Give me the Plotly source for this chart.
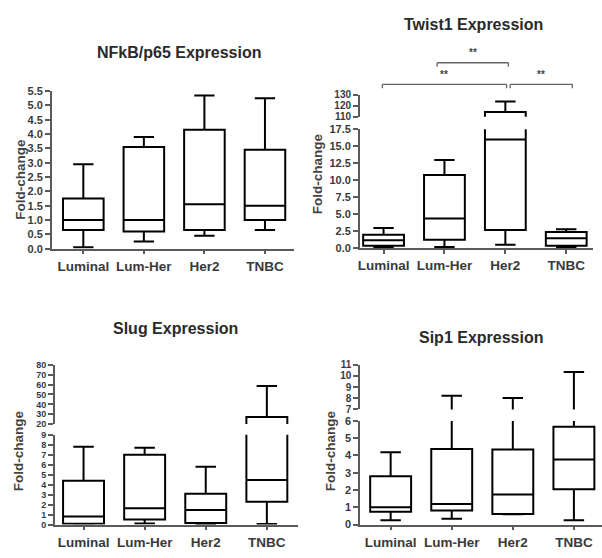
import plotly.graph_objects as go

W, H = 602, 558
categories = ["Luminal", "Lum-Her", "Her2", "TNBC"]

# NFkB/p65
nfkb_low = [0.05, 0.25, 0.45, 0.65]
nfkb_q1 = [0.65, 0.60, 0.65, 1.00]
nfkb_med = [1.00, 1.00, 1.55, 1.50]
nfkb_q3 = [1.75, 3.55, 4.15, 3.45]
nfkb_high = [2.95, 3.90, 5.35, 5.25]

# Twist1
tw_low = [0.2, 0.2, 0.55, 0.2]
tw_q1 = [0.4, 1.25, 2.7, 0.4]
tw_med = [1.2, 4.4, 16.0, 1.5]
tw_q3 = [2.0, 10.8, 114.4, 2.4]
tw_high = [3.0, 13.0, 123.8, 2.8]

# Slug
sl_low = [0.02, 0.1, 0.05, 0.07]
sl_q1 = [0.08, 0.5, 0.15, 2.28]
sl_med = [0.8, 1.65, 1.47, 4.48]
sl_q3 = [4.4, 7.0, 3.1, 27.2]
sl_high = [7.8, 7.7, 5.8, 58.6]

# Sip1
sp_low = [0.25, 0.34, 0.6, 0.25]
sp_q1 = [0.75, 0.81, 0.62, 2.04]
sp_med = [1.0, 1.19, 1.74, 3.77]
sp_q3 = [2.79, 4.38, 4.34, 5.66]
sp_high = [4.19, 8.23, 8.02, 10.36]

# significance brackets on Twist1: (left, right, label, row)
brackets = [(0.88, 2.05, "**", 0), (-0.02, 2.02, "**", 1), (2.08, 3.10, "**", 1)]

FONT = "Arial, Liberation Sans, sans-serif"
AX = "#5a5a5a"
TXT = "#3a3a3a"


def px_x(p):
    return p / W


def px_y(p):
    return 1 - p / H


fig = go.Figure()


def add_box(xa, ya, low, q1, med, q3, high):
    fig.add_trace(go.Box(
        x=categories, lowerfence=low, q1=q1, median=med, q3=q3, upperfence=high,
        xaxis=xa, yaxis=ya, boxpoints=False, width=0.67, whiskerwidth=0.5,
        line=dict(color="black", width=2), fillcolor="rgba(255,255,255,0)",
        showlegend=False, hoverinfo="skip"))


add_box("x", "y", nfkb_low, nfkb_q1, nfkb_med, nfkb_q3, nfkb_high)
add_box("x2", "y2", tw_low, tw_q1, tw_med, tw_q3, tw_high)
add_box("x3", "y3", tw_low, tw_q1, tw_med, tw_q3, tw_high)
add_box("x4", "y4", sl_low, sl_q1, sl_med, sl_q3, sl_high)
add_box("x5", "y5", sl_low, sl_q1, sl_med, sl_q3, sl_high)
add_box("x6", "y6", sp_low, sp_q1, sp_med, sp_q3, sp_high)
add_box("x7", "y7", sp_low, sp_q1, sp_med, sp_q3, sp_high)


def xax(dom, rng, anchor, visible=True):
    return dict(domain=[px_x(dom[0]), px_x(dom[1])], range=rng, anchor=anchor,
                type="category", categoryorder="array", categoryarray=categories,
                visible=visible, showline=True, linecolor=AX, linewidth=1.5,
                ticks="outside", ticklen=4, tickwidth=1.5, tickcolor=AX,
                showgrid=False, zeroline=False,
                tickfont=dict(family=FONT, size=13.5, color=TXT, weight="bold"))


def yax(dom, rng, anchor, tickvals, fmt, fs=11):
    return dict(domain=[px_y(dom[1]), px_y(dom[0])], range=rng, anchor=anchor,
                showline=True, linecolor=AX, linewidth=1.5,
                ticks="outside", ticklen=5, tickwidth=1.5, tickcolor=AX,
                tickvals=tickvals, tickformat=fmt, showgrid=False, zeroline=False,
                tickfont=dict(family=FONT, size=fs, color=TXT, weight="bold"))


lay = {}
# Panel 1
lay["xaxis"] = xax((50, 293), [-0.52, 3.48], "y")
lay["yaxis"] = yax((87, 248), [0, 5.5], "x", [i * 0.5 for i in range(12)], ".1f")
# Panel 2
lay["xaxis2"] = xax((359, 593), [-0.39, 3.44], "y2")
lay["yaxis2"] = yax((126, 247.7), [0, 17.5], "x2", [i * 2.5 for i in range(8)], ".1f")
lay["xaxis3"] = xax((359, 593), [-0.39, 3.44], "y3", visible=False)
lay["yaxis3"] = yax((90.7, 113.3), [110, 130], "x3", [110, 120, 130], "d", fs=10)
# Panel 3
lay["xaxis4"] = xax((53, 297), [-0.47, 3.51], "y4")
lay["yaxis4"] = yax((438.3, 530), [0, 9], "x4", list(range(10)), "d", fs=9)
lay["xaxis5"] = xax((53, 297), [-0.47, 3.51], "y5", visible=False)
lay["yaxis5"] = yax((366.7, 427.3), [20, 80], "x5", list(range(20, 81, 10)), "d", fs=9)
# Panel 4
lay["xaxis6"] = xax((359.3, 602), [-0.5, 3.46], "y6")
lay["yaxis6"] = yax((424, 530), [0, 6], "x6", list(range(7)), "d")
lay["xaxis7"] = xax((359.3, 602), [-0.5, 3.46], "y7", visible=False)
lay["yaxis7"] = yax((366.7, 412.3), [7, 11], "x7", list(range(7, 12)), "d", fs=10)

annotations = []
titles = [("NFkB/p65 Expression", 178.3, 47.5), ("Twist1 Expression", 472.8, 18.5),
          ("Slug Expression", 174, 330), ("Sip1 Expression", 481.3, 339)]
for t, x, y in titles:
    annotations.append(dict(text=t, x=px_x(x), y=px_y(y), xref="paper", yref="paper",
                            showarrow=False, xanchor="center", yanchor="middle",
                            font=dict(family=FONT, size=16, color="#2a2a2a", weight="bold")))
ytitles = [(19, 176.7), (316, 171), (16, 454), (329, 454)]
for x, y in ytitles:
    annotations.append(dict(text="Fold-change", x=px_x(x), y=px_y(y), xref="paper", yref="paper",
                            showarrow=False, textangle=-90, xanchor="center", yanchor="middle",
                            font=dict(family=FONT, size=13.5, color="#444", weight="bold")))

shapes = []
rows_y = {0: (58, 62, 48), 1: (80, 84, 70)}
for a, b, lbl, row in brackets:
    yl, yt, ylab = rows_y[row]
    for xs, ys in [((a, a), (yt, yl)), ((a, b), (yl, yl)), ((b, b), (yl, yt))]:
        shapes.append(dict(type="line", xref="x2", yref="paper",
                           x0=xs[0], x1=xs[1], y0=px_y(ys[0]), y1=px_y(ys[1]),
                           line=dict(color="#666", width=1.3)))
    annotations.append(dict(text=lbl, x=(a + b) / 2, y=px_y(ylab), xref="x2", yref="paper",
                            showarrow=False, xanchor="center", yanchor="middle",
                            font=dict(family=FONT, size=10, color="#444", weight="bold")))

fig.update_layout(width=W, height=H, margin=dict(l=0, r=0, t=0, b=0),
                  paper_bgcolor="white", plot_bgcolor="white", showlegend=False,
                  annotations=annotations, shapes=shapes, **lay)

fig.write_html("out.html", config={"displayModeBar": False},
               post_script="document.body.style.margin='0';document.body.style.overflow='hidden';")
